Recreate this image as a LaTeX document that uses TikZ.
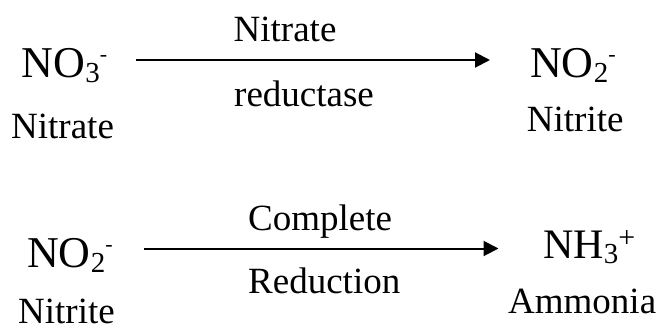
\documentclass[tikz,border=0pt]{standalone}
\usepackage{fontspec}
\setmainfont{Liberation Serif}
\usetikzlibrary{arrows.meta}
\newcommand{\chemsub}[1]{\raisebox{-5pt}{\fontsize{29}{29}\selectfont #1}}
\newcommand{\chemsup}[3][16pt]{\raisebox{#1}{\fontsize{#2}{#2}\selectfont #3}}
\tikzset{
  species/.style={inner sep=0pt, anchor=base west, font=\fontsize{44}{44}\selectfont},
  lbl/.style={inner sep=0pt, anchor=base west, font=\fontsize{37}{37}\selectfont},
  rxn/.style={black, line width=2pt, -{Triangle[length=15pt,width=15pt]}}
}

\begin{document}
\begin{tikzpicture}[x=1pt, y=-1pt]
  \useasboundingbox (0,0) rectangle (659,327);

  %# NITRATO -> NITRITO
  \node[species] (nothree) at (21.7,77) {NO\chemsub{3}\chemsup{22}{-}};
  \node[lbl] (nitrate) at (11,138) {Nitrate};
  \node[species] (notwo) at (530,77) {NO\chemsub{2}\chemsup{22}{-}};
  \node[lbl] (nitrite) at (526.7,131.7) {Nitrite};

  %#ENZIMA
  \node[lbl] (enzA) at (233.5,41) {Nitrate};
  \node[lbl] (enzB) at (234,106) {reductase};
  \coordinate (rxnAfrom) at (136,60);
  \coordinate (rxnAto) at (490,60);
  \draw[rxn] (rxnAfrom) -- (rxnAto);

  %# NITRITO -> AMONIO
  \node[species] (notwoB) at (27,267) {NO\chemsub{2}\chemsup{22}{-}};
  \node[lbl] (nitriteB) at (18,323) {Nitrite};
  \node[species, font=\fontsize{42}{42}\selectfont] (nhthree) at (543,258.3) {NH\chemsub{3}\chemsup[11pt]{30}{+}};
  \node[lbl] (ammonia) at (508,313) {Ammonia};

  %#REDUCCION
  \node[lbl] (redA) at (248,230) {Complete};
  \node[lbl] (redB) at (248,293) {Reduction};
  \coordinate (rxnBfrom) at (144,248.5);
  \coordinate (rxnBto) at (498.5,248.5);
  \draw[rxn] (rxnBfrom) -- (rxnBto);
\end{tikzpicture}
\end{document}
